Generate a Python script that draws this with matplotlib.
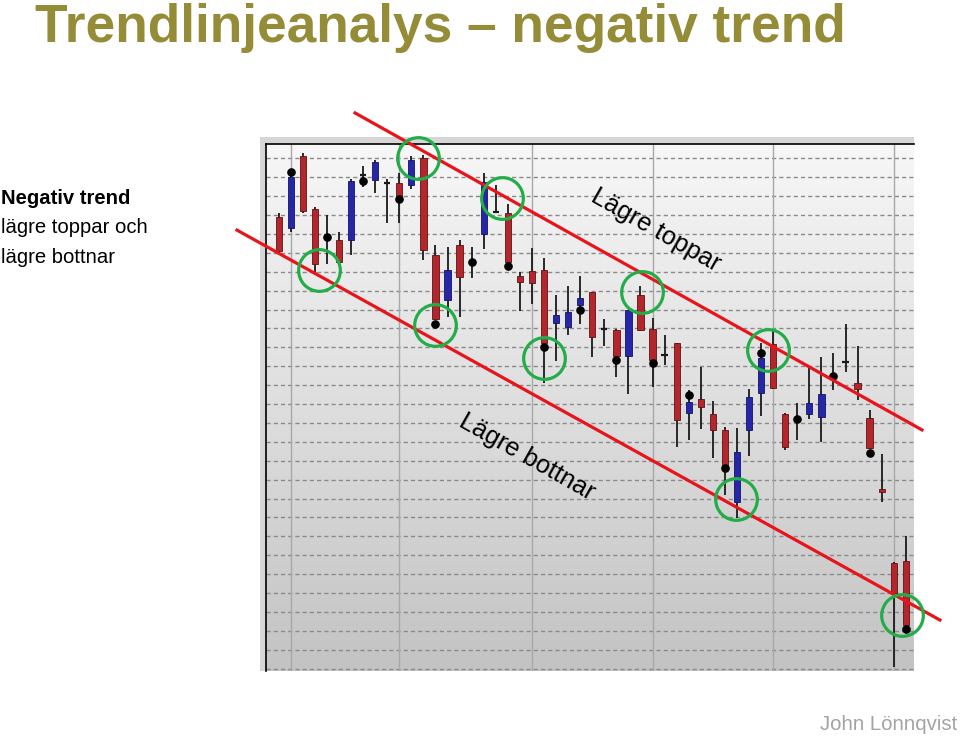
import matplotlib
matplotlib.use("Agg")
import matplotlib.pyplot as plt
import numpy as np
from matplotlib import font_manager
from matplotlib.colors import LinearSegmentedColormap

# ---------------- data ----------------
opens  = [23.9, 23.3, 27.1, 24.3, 22.85, 22.7, 22.7, 26.1, 25.85, 25.7,
          25.7, 25.6, 27.0, 21.9, 19.5, 22.4, 21.5, 23.0, 24.15, 24.1,
          20.75, 21.05, 21.1, 18.3, 18.1, 19.25, 19.95, 17.95, 17.9, 16.55,
          19.75, 17.95, 16.6, 17.25, 13.55, 14.25, 13.45, 12.65, 8.8, 12.65,
          14.6, 17.2, 13.45, 13.2, 13.45, 13.3, 15.5, 16.2, 15.1, 13.25,
          9.5, 5.6, 5.7]
highs  = [24.1, 26.2, 27.3, 24.4, 24.0, 23.1, 25.9, 26.6, 26.9, 25.9,
          26.2, 27.1, 27.2, 22.4, 22.3, 22.7, 22.3, 26.2, 25.6, 24.6,
          21.0, 22.25, 21.7, 19.75, 20.25, 20.75, 19.95, 18.5, 17.95, 19.0,
          20.25, 18.55, 17.65, 17.25, 14.75, 15.95, 14.15, 12.8, 12.75, 14.8,
          17.25, 17.9, 13.5, 14.05, 15.9, 16.5, 16.7, 18.25, 17.05, 13.7,
          11.35, 5.65, 7.0]
lows   = [22.0, 23.1, 24.1, 20.8, 21.4, 21.5, 21.9, 25.5, 25.15, 23.6,
          23.6, 25.4, 21.6, 18.45, 18.6, 18.6, 20.65, 22.2, 24.1, 21.45,
          18.9, 19.3, 15.1, 16.25, 17.65, 18.25, 16.5, 17.05, 15.45, 14.55,
          17.85, 14.9, 16.05, 11.75, 12.1, 12.7, 11.15, 9.2, 7.95, 11.25,
          13.35, 14.8, 11.55, 12.1, 13.2, 12.0, 14.75, 15.7, 14.2, 11.6,
          8.8, 0.1, 2.3]
closes = [22.1, 26.0, 24.2, 21.4, 22.85, 21.5, 25.8, 26.1, 26.8, 25.7,
          25.0, 26.9, 22.15, 18.5, 21.1, 20.7, 21.5, 25.75, 24.15, 21.5,
          20.45, 20.4, 17.25, 18.7, 18.85, 19.6, 17.55, 17.95, 16.55, 18.95,
          17.9, 16.35, 16.6, 13.15, 14.1, 13.85, 12.65, 10.7, 11.45, 14.35,
          16.45, 14.85, 11.75, 13.2, 14.05, 14.55, 15.5, 16.2, 14.8, 11.65,
          9.35, 4.0, 2.3]

# black signal dots (candle index, price)
dot_idx   = [1, 4, 7, 10, 13, 16, 19, 22, 25, 28, 31, 34, 37, 40, 43, 46, 49, 52]
dot_price = [26.3, 22.85, 25.8, 24.85, 18.25, 21.5, 21.3, 17.0, 19.0, 16.35,
             16.15, 14.45, 10.6, 16.7, 13.2, 15.5, 11.4, 2.1]

# vertical (date) grid lines at candle index
vgrid_idx = [1, 10, 21, 31, 41, 51]

# trend lines (candle index, price)
upper_x = [6.33, 53.34]
upper_y = [29.4, 12.63]
lower_x = [-3.46, 54.83]
lower_y = [23.2, 2.57]

# green circles marking tops and bottoms
circ_x = [3.32, 11.58, 12.96, 18.49, 30.1, 22.0, 40.6, 37.89, 51.66]
circ_y = [21.09, 27.0, 18.18, 24.88, 19.94, 16.45, 16.86, 8.96, 2.84]

# ---------------- figure ----------------
W, H = 960, 737
fig = plt.figure(figsize=(W / 100, H / 100), dpi=100)
fig.patch.set_facecolor("white")

def fx(px):
    return px / W

def fy(py):
    return 1 - py / H

avail = {f.name for f in font_manager.fontManager.ttflist}
title_fam = ["Liberation Sans Narrow", "Liberation Sans"] if "Liberation Sans Narrow" in avail else ["Liberation Sans"]
title_size = 40 if "Liberation Sans Narrow" in avail else 38.3
sans = ["Liberation Sans", "DejaVu Sans"]

# frame behind chart image
frame = fig.add_axes([fx(260), fy(671), fx(914) - fx(260), fy(137) - fy(671)])
frame.set_facecolor("#d6d6d6")
frame.set_xticks([]); frame.set_yticks([])
for s in frame.spines.values():
    s.set_visible(False)

ax = fig.add_axes([fx(266), fy(671), fx(914) - fx(266), fy(144) - fy(671)])
x0, x1 = -1.053, 52.68
y0, y1 = -0.127, 27.757
ax.set_xlim(x0, x1)
ax.set_ylim(y0, y1)

# gradient background
grad = np.linspace(0, 1, 256).reshape(-1, 1)
cm = LinearSegmentedColormap.from_list("bg", ["#c3c3c3", "#dedede", "#f7f7f7"])
ax.imshow(grad, extent=[x0, x1, y0, y1], origin="lower", aspect="auto",
          cmap=cm, zorder=0, interpolation="bilinear")

# grid
for gy in range(0, 28):
    ax.axhline(gy, color="#8a8a8a", lw=1.0, dashes=(3, 2.2), zorder=1)
for gx in vgrid_idx:
    ax.axvline(gx, color="#a8a8a8", lw=1.0, zorder=1)

ax.set_xticks([]); ax.set_yticks([])
for k in ["right", "bottom"]:
    ax.spines[k].set_visible(False)
ax.spines["left"].set_color("black")
ax.spines["top"].set_color("black")
ax.spines["left"].set_linewidth(1.2)
ax.spines["top"].set_linewidth(1.2)

# candles
idx = np.arange(len(opens))
o = np.array(opens); c = np.array(closes)
ax.vlines(idx, lows, highs, color="#1a1a1a", lw=1.3, zorder=2)
bw = 0.52
for i in idx:
    if c[i] > o[i]:
        ax.bar(i, c[i] - o[i], bottom=o[i], width=bw, color="#2626a8",
               edgecolor="#141460", lw=0.6, zorder=3)
    elif c[i] < o[i]:
        ax.bar(i, o[i] - c[i], bottom=c[i], width=bw, color="#b4262c",
               edgecolor="#5a1414", lw=0.6, zorder=3)
    else:
        ax.hlines(o[i], i - bw / 2, i + bw / 2, color="#1a1a1a", lw=1.6, zorder=3)

ax.plot(dot_idx, dot_price, "o", color="black", ms=5.2, zorder=4)

# trend lines
ax.plot(upper_x, upper_y, color="#e8141c", lw=2.3, clip_on=False, zorder=5)
ax.plot(lower_x, lower_y, color="#e8141c", lw=2.3, clip_on=False, zorder=5)

# circles
ax.plot(circ_x, circ_y, "o", ms=30, mfc="none", mec="#23ad48", mew=2.3,
        clip_on=False, zorder=6)

# texts
fig.text(fx(35), fy(42), "Trendlinjeanalys \u2013 negativ trend", color="#958c37",
         fontsize=title_size, fontweight="bold", family=title_fam, va="baseline", ha="left")
fig.text(fx(1), fy(198), "Negativ trend", fontsize=14.6, fontweight="bold",
         family=sans, va="center", ha="left")
fig.text(fx(1), fy(228), "lägre toppar och", fontsize=14.6, family=sans,
         va="center", ha="left")
fig.text(fx(1), fy(257), "lägre bottnar", fontsize=14.6, family=sans,
         va="center", ha="left")
fig.text(fx(656), fy(230), "Lägre toppar", fontsize=18.3, family=sans,
         rotation=-29.5, rotation_mode="anchor", ha="center", va="center")
fig.text(fx(527), fy(457), "Lägre bottnar", fontsize=18.3, family=sans,
         rotation=-29.5, rotation_mode="anchor", ha="center", va="center")
fig.text(fx(957), fy(725), "John Lönnqvist", fontsize=14.7, family=sans,
         color="#a3a3a3", ha="right", va="center")

fig.savefig("out.png", dpi=100)
